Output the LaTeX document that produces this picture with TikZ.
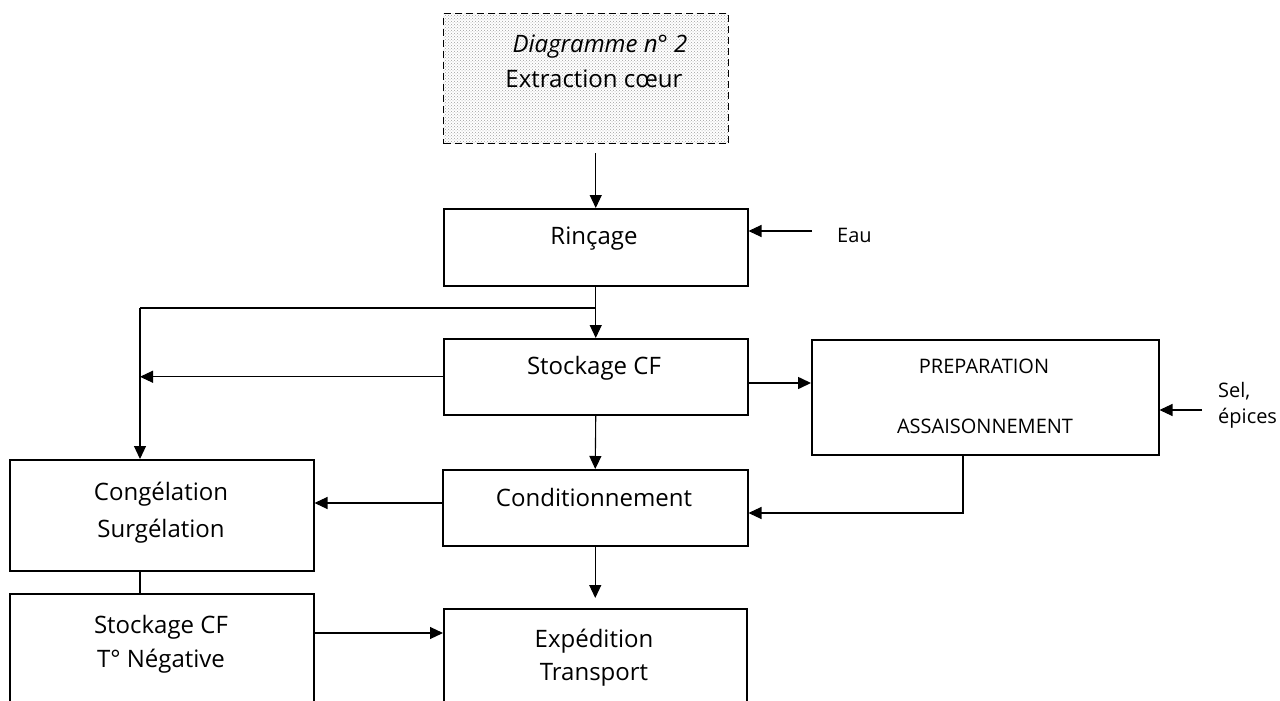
\documentclass[tikz,border=0pt]{standalone}
\usepackage{fontspec}
\setmainfont{Open Sans}
\usetikzlibrary{arrows.meta,patterns}

\tikzset{
  box/.style={draw, line width=1.5pt, inner sep=0pt, anchor=north west},
  conn/.style={line width=1.1pt, -{Triangle[length=13pt,width=12pt]}},
  plain/.style={line width=1.1pt},
  txt/.style={inner sep=0pt, anchor=base, font=\fontsize{24}{28}\selectfont},
  small/.style={inner sep=0pt, anchor=base, font=\fontsize{20}{24}\selectfont},
}

\begin{document}
\begin{tikzpicture}[x=1pt, y=-1pt]
\useasboundingbox (0,0) rectangle (1280,701);
\clip (0,0) rectangle (1280,701);

% boxes
\node[box, dashed, dash pattern=on 7pt off 4pt, line width=1.3pt,
      preaction={fill=white}, pattern=crosshatch dots, pattern color=gray!75,
      minimum width=285pt, minimum height=130pt] (top) at (443,13) {};
\node[box, minimum width=304pt, minimum height=77pt] (rinc) at (443,208) {};
\node[box, minimum width=304pt, minimum height=76pt] (stock) at (443,338) {};
\node[box, minimum width=347pt, minimum height=115pt] (prep) at (811,339) {};
\node[box, minimum width=305pt, minimum height=76pt] (cond) at (442,469) {};
\node[box, minimum width=304pt, minimum height=111pt] (cong) at (9,459) {};
\node[box, minimum width=304pt, minimum height=130pt] (stockneg) at (9,593) {};
\node[box, minimum width=303pt, minimum height=120pt] (exped) at (443,608) {};

% texts
\node[txt, font=\fontsize{24}{28}\selectfont\itshape] (t1) at (600,53) {Diagramme n° 2};
\node[txt] (t2) at (594,88) {Extraction cœur};
\node[txt] (trinc) at (594,244) {Rinçage};
\node[txt] (tstock) at (594,374) {Stockage CF};
\node[small] (tprep1) at (984,373) {PREPARATION};
\node[small] (tprep2) at (985,433) {ASSAISONNEMENT};
\node[txt] (tcond) at (594,506) {Conditionnement};
\node[txt] (tcong1) at (161,500) {Congélation};
\node[txt] (tcong2) at (161,537) {Surgélation};
\node[txt] (tneg1) at (161,633) {Stockage CF};
\node[txt] (tneg2) at (161,667) {T° Négative};
\node[txt] (texp1) at (594,647) {Expédition};
\node[txt] (texp2) at (594,680) {Transport};
\node[small, anchor=base west] (eau) at (837,242) {Eau};
\node[small, anchor=base west] (sel) at (1218,397) {Sel,};
\node[small, anchor=base west] (epices) at (1218,423) {épices};

% junction points
\coordinate (brk) at (595,308);
\coordinate (lft) at (140,308);
\coordinate (pturn) at (963,513);
\coordinate (eauin) at (812,231);
\coordinate (selin) at (1202,410);
\coordinate (negout) at (313,633);
\coordinate (stockout) at (747,383);
\coordinate (condout) at (442,503);

% connectors
\draw[conn, shorten <=9pt] (rinc.north |- top.south) -- (rinc.north);
\draw[conn] (rinc.south) -- (stock.north);
\draw[plain] (brk) -- (lft);
\draw[conn] (lft) -- (lft |- cong.north);
\draw[conn] (stock.west) -- (lft |- stock.west);
\draw[conn, line width=1.6pt] (stockout) -- (prep.west |- stockout);
\draw[conn] (stock.south) -- (cond.north);
\draw[conn] (prep.south -| pturn) -- (pturn) -- (cond.east |- pturn);
\draw[conn] (condout) -- (cong.east |- condout);
\draw[plain] (lft |- cong.south) -- (lft |- stockneg.north);
\draw[conn] (negout) -- (exped.west |- negout);
\draw[conn, shorten >=10pt] (cond.south) -- (exped.north);
\draw[conn] (eauin) -- (rinc.east |- eauin);
\draw[conn] (selin) -- (prep.east |- selin);
\end{tikzpicture}
\end{document}
